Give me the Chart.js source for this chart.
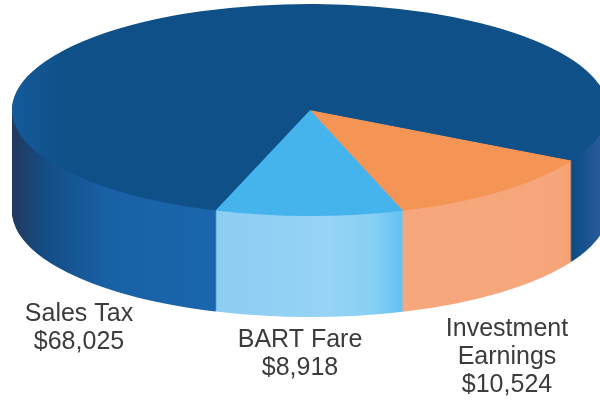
<!DOCTYPE html>
<html>
<head>
<meta charset="utf-8">
<title>Revenue</title>
<script src="https://cdn.jsdelivr.net/npm/chart.js@4"></script>
<style>
  html, body { margin: 0; padding: 0; background: #fff; }
  canvas { display: block; }
</style>
</head>
<body>
<canvas id="grafico" width="600" height="404"></canvas>
<script>
const categorias = ['Investment Earnings', 'BART Fare', 'Sales Tax'];
const valores = [10524, 8918, 68025];
const coresTopo = ['#f59555', '#45b3ec', '#0f5088'];

// onde o disco fica na tela (o pie real e achatado por transformacao)
const disco = { x: 310, y: 110, rx: 298, ry: 106, altura: 101 };
const rotacao = 118.5;

// paredes laterais: paradas do gradiente horizontal, em pixels da tela
const paredes = [
  [[400, '#f6a77d'], [560, '#f6a67a'], [573, '#f7a06c']],
  [[215, '#8ccdf2'], [330, '#97d4f5'], [375, '#85cff4'], [403, '#62c2f2']],
  [[12, '#22395c'], [45, '#134d85'], [110, '#1961a6'], [215, '#1a66ac'], [572, '#0f4a80'], [576, '#0f4f88'], [600, '#29599a']]
];
// topo da fatia maior fica um pouco mais claro na borda esquerda
const topoSales = [[12, '#145a9a'], [65, '#0f5088'], [600, '#0f5088']];

// rotulos: linhas de texto, centro x e y da primeira linha
const rotulos = [
  { linhas: ['Investment', 'Earnings'], x: 507, y: 329 },
  { linhas: ['BART Fare'], x: 300, y: 340 },
  { linhas: ['Sales Tax'], x: 79, y: 314 }
];
const entreLinhas = 28;

function transformar(ctx, arco, dy) {
  const r = arco.outerRadius;
  ctx.translate(disco.x, disco.y + dy);
  ctx.scale(disco.rx / r, disco.ry / r);
  ctx.translate(-arco.x, -arco.y);
}

function gradiente(ctx, arco, paradas) {
  const k = arco.outerRadius / disco.rx;
  const x0 = paradas[0][0];
  const x1 = paradas[paradas.length - 1][0];
  const g = ctx.createLinearGradient(arco.x + (x0 - disco.x) * k, 0, arco.x + (x1 - disco.x) * k, 0);
  paradas.forEach(p => g.addColorStop((p[0] - x0) / (x1 - x0), p[1]));
  return g;
}

function comCor(arco, cor, fn) {
  const original = arco.options;
  arco.options = Object.assign({}, original, { backgroundColor: cor, borderWidth: 0 });
  fn();
  arco.options = original;
}

const pizza3d = {
  id: 'pizza3d',
  beforeDatasetDraw(chart, args) {
    const ctx = chart.ctx;
    const arcos = args.meta.data;
    const ref = arcos[0];
    const gradientes = paredes.map(p => gradiente(ctx, ref, p));

    // empilha as fatias de baixo para cima para formar a lateral
    for (let d = disco.altura; d >= 1; d--) {
      ctx.save();
      transformar(ctx, ref, d);
      arcos.forEach((arco, i) => comCor(arco, gradientes[i], () => arco.draw(ctx)));
      ctx.restore();
    }

    // o topo e desenhado aqui, o controller nao desenha de novo
    ctx.save();
    transformar(ctx, ref, 0);
    const topo = gradiente(ctx, ref, topoSales);
    arcos.forEach((arco, i) => comCor(arco, i === 2 ? topo : coresTopo[i], () => arco.draw(ctx)));
    ctx.restore();
    return false;
  },
  afterDraw(chart) {
    const ctx = chart.ctx;
    ctx.save();
    ctx.font = '25px "Liberation Sans"';
    ctx.fillStyle = '#3c3c3c';
    ctx.textAlign = 'center';
    ctx.textBaseline = 'middle';
    rotulos.forEach((r, i) => {
      const linhas = r.linhas.concat('$' + valores[i].toLocaleString('en-US'));
      linhas.forEach((t, j) => ctx.fillText(t, r.x, r.y + j * entreLinhas));
    });
    ctx.restore();
  }
};

new Chart(document.getElementById('grafico'), {
  type: 'pie',
  data: {
    labels: categorias,
    datasets: [{
      data: valores,
      backgroundColor: coresTopo,
      borderWidth: 0,
      clip: false
    }]
  },
  options: {
    responsive: false,
    animation: false,
    rotation: rotacao,
    layout: { padding: 0 },
    plugins: {
      legend: { display: false },
      tooltip: { enabled: false }
    }
  },
  plugins: [pizza3d]
});
</script>
</body>
</html>
